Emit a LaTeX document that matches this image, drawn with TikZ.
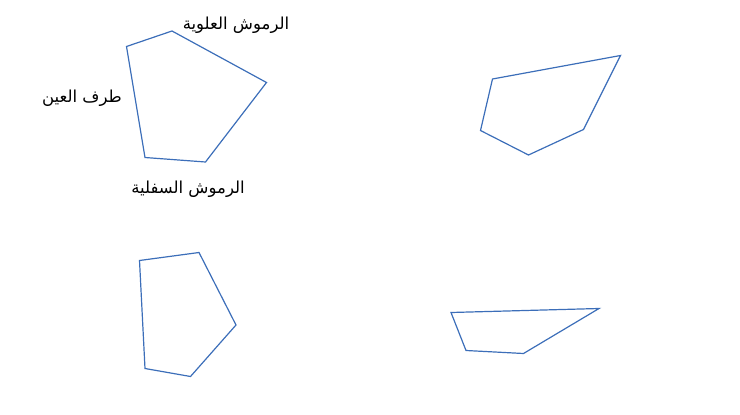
\documentclass[tikz,border=0pt]{standalone}
\usepackage{fontspec}
\newfontfamily\arabicfont[Script=Arabic]{DejaVu Sans}
\TeXXeTstate=1
\definecolor{polyblue}{RGB}{60,110,185}
\begin{document}
\begin{tikzpicture}[x=1pt,y=-1pt,
  poly/.style={draw=polyblue,line width=1.2pt,line join=miter},
  lbl/.style={font=\arabicfont\fontsize{16.5}{19}\selectfont,inner sep=0pt,text=black}]
\useasboundingbox (0,0) rectangle (740,415);
% polygon 1
\coordinate (a1) at (126.5,46.5);
\coordinate (a2) at (172,31);
\coordinate (a3) at (266.5,82.5);
\coordinate (a4) at (205.5,162);
\coordinate (a5) at (145,157.5);
\draw[poly] (a1) -- (a2) -- (a3) -- (a4) -- (a5) -- cycle;
% polygon 2
\coordinate (b1) at (492.5,79);
\coordinate (b2) at (620.5,55.5);
\coordinate (b3) at (583.5,129.5);
\coordinate (b4) at (528.5,155);
\coordinate (b5) at (480.5,130.5);
\draw[poly] (b1) -- (b2) -- (b3) -- (b4) -- (b5) -- cycle;
% polygon 3
\coordinate (c1) at (139.5,260.5);
\coordinate (c2) at (199,252.5);
\coordinate (c3) at (236,325);
\coordinate (c4) at (190.5,376.5);
\coordinate (c5) at (145,368.5);
\draw[poly] (c1) -- (c2) -- (c3) -- (c4) -- (c5) -- cycle;
% polygon 4
\coordinate (d1) at (451,312.5);
\coordinate (d2) at (599,308.5);
\coordinate (d3) at (523.5,353.5);
\coordinate (d4) at (466,350.5);
\draw[poly] (d1) -- (d2) -- (d3) -- (d4) -- cycle;
% labels
\node[lbl] (upper) at (236,25) {\beginR الرموش العلوية\endR};
\node[lbl] (corner) at (82,98) {\beginR طرف العين\endR};
\node[lbl] (lower) at (188,189) {\beginR الرموش السفلية\endR};
\end{tikzpicture}
\end{document}
